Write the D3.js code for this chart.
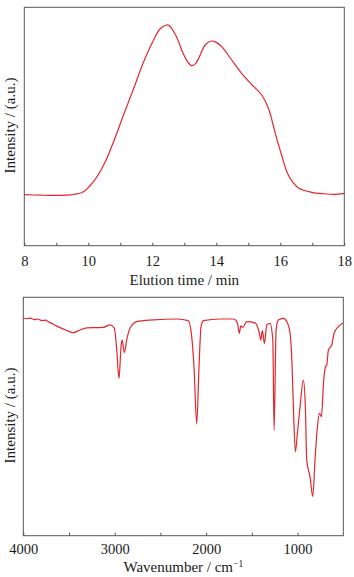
<!DOCTYPE html>
<html>
<head>
<meta charset="utf-8">
<script src="https://cdn.jsdelivr.net/npm/d3@7"></script>
<style>
  html, body { margin: 0; padding: 0; background: #fff; }
  svg { display: block; }
  text { font-family: "Liberation Serif", "Times New Roman", serif; fill: #1a1a1a; }
</style>
</head>
<body>
<svg id="chart" width="354" height="577"></svg>
<script>
// ---------- GPC (top) ----------
const gpcTime = [8, 8.5, 9, 9.44, 9.85, 10.16, 10.48, 10.79, 11.1, 11.42, 11.73, 12.04, 12.24, 12.45, 12.53,
  12.73, 12.94, 13.1, 13.23, 13.35, 13.45, 13.65, 13.85, 14.0, 14.17, 14.48, 14.79, 15.1, 15.42, 15.63, 15.83,
  16.04, 16.25, 16.56, 16.98, 17.35, 17.71, 18];
const gpcIntensity = [21.4, 21.2, 21.1, 21.3, 22.65, 26.85, 33.85, 43.62, 54.82, 66.02, 77.18, 86.28, 90.9, 92.58, 92.3,
  88.38, 81.38, 77.2, 75.5, 76.4, 78.61, 84.19, 85.86, 85.3, 83.47, 77.89, 72.32, 67.7, 63.21, 57.63, 47.82,
  38.04, 29.66, 24.33, 22.4, 21.8, 21.56, 21.98];
const gpcTicks = [8, 10, 12, 14, 16, 18];
const gpcMinorTicks = [9, 11, 13, 15, 17];

// ---------- FTIR (bottom) ----------
const irWavenumber = [4000, 3960, 3920, 3880, 3840, 3800, 3760, 3720, 3680, 3635, 3550, 3453, 3380, 3306, 3200, 3125,
  3051, 3004, 2978, 2953, 2931, 2920, 2895, 2869, 2833, 2760, 2578, 2322, 2195, 2158, 2133, 2103,
  2078, 2056, 2031, 1848, 1702, 1659, 1637, 1621, 1600, 1556, 1465, 1418, 1403, 1385, 1363, 1337,
  1301, 1271, 1257, 1235, 1210, 1155, 1118, 1082, 1060, 1046, 1024, 1002, 973, 937, 915, 900,
  864, 834, 809, 783, 761, 739, 717, 695, 681, 663, 626, 601, 554, 506];
const irIntensity = [91.2, 91.0, 91.3, 90.6, 90.9, 90.2, 90.4, 89.6, 88.9, 87.9, 86.5, 85.2, 86.3, 87.2, 87.3, 87.4,
  88.4, 87.0, 77.9, 66.0, 79.3, 82.1, 76.8, 82.1, 87.0, 89.8, 90.5, 90.9, 90.2, 83.5, 70.9, 46.9,
  70.9, 87.7, 90.2, 90.9, 90.9, 89.3, 84.9, 88.0, 87.4, 89.8, 89.3, 84.9, 82.1, 86.0, 80.7, 88.4,
  89.1, 82.1, 44.3, 86.3, 90.5, 91.2, 89.8, 84.9, 70.9, 54.1, 35.2, 43.0, 54.1, 65.3, 54.1, 31.8,
  24.7, 16.4, 31.8, 45.7, 51.3, 49.9, 63.9, 70.9, 71.6, 77.9, 80.0, 84.9, 87.7, 89.1];
const irTicks = [4000, 3000, 2000, 1000];
const irMinorTicks = [3500, 2500, 1500];

const lineColor = "#e3262d";
const frameColor = "#555";
const svg = d3.select("#chart");

function panel(cfg) {
  const { left, right, top, bottom } = cfg;
  const x = d3.scaleLinear().domain(cfg.xDomain).range([left, right]);
  const y = d3.scaleLinear().domain([0, 100]).range([bottom, top]);
  const g = svg.append("g");

  // minor ticks
  g.append("g").attr("transform", `translate(0,${bottom})`)
    .call(d3.axisBottom(x).tickValues(cfg.minor).tickSizeInner(-3).tickSizeOuter(0).tickFormat(""))
    .call(a => a.select(".domain").remove())
    .call(a => a.selectAll("line").attr("stroke", frameColor));

  // major ticks
  g.append("g").attr("transform", `translate(0,${bottom})`)
    .call(d3.axisBottom(x).tickValues(cfg.ticks).tickSizeInner(-3).tickSizeOuter(0)
      .tickPadding(cfg.pad).tickFormat(d3.format("d")))
    .call(a => a.select(".domain").remove())
    .call(a => a.selectAll("line").attr("stroke", frameColor))
    .call(a => a.selectAll("text").attr("font-size", 14.5).attr("font-family", "Liberation Serif").attr("fill", "#1a1a1a"));

  // line
  const line = d3.line()
    .x((d, i) => x(cfg.xs[i]))
    .y((d) => y(d))
    .curve(cfg.curve);
  g.append("path")
    .attr("d", line(cfg.ys))
    .attr("fill", "none")
    .attr("stroke", lineColor)
    .attr("stroke-width", 1.2)
    .attr("stroke-linejoin", "round");

  // frame
  g.append("rect")
    .attr("x", left).attr("y", top)
    .attr("width", right - left).attr("height", bottom - top)
    .attr("fill", "none").attr("stroke", frameColor).attr("stroke-width", 1);

  // labels
  g.append("text")
    .attr("x", (left + right) / 2 + cfg.xLabelDx).attr("y", cfg.xLabelY)
    .attr("text-anchor", "middle").attr("font-size", 15)
    .html(cfg.xLabel);
  g.append("text")
    .attr("transform", `translate(15,${(top + bottom) / 2 - 1}) rotate(-90)`)
    .attr("text-anchor", "middle").attr("font-size", 15)
    .text("Intensity / (a.u.)");
}

panel({
  left: 24.3, right: 344.3, top: 7.3, bottom: 245.7,
  xDomain: [8, 18], ticks: gpcTicks, minor: gpcMinorTicks, pad: 10,
  xs: gpcTime, ys: gpcIntensity, curve: d3.curveCatmullRom.alpha(0.5),
  xLabel: "Elution time / min", xLabelY: 285, xLabelDx: 0
});

panel({
  left: 23.3, right: 343.3, top: 297.3, bottom: 535.7,
  xDomain: [4000, 500], ticks: irTicks, minor: irMinorTicks, pad: 8,
  xs: irWavenumber, ys: irIntensity, curve: d3.curveMonotoneX,
  xLabel: 'Wavenumber / cm<tspan dy="-5" font-size="9.5">−1</tspan>', xLabelY: 572, xLabelDx: 0
});
</script>
</body>
</html>
